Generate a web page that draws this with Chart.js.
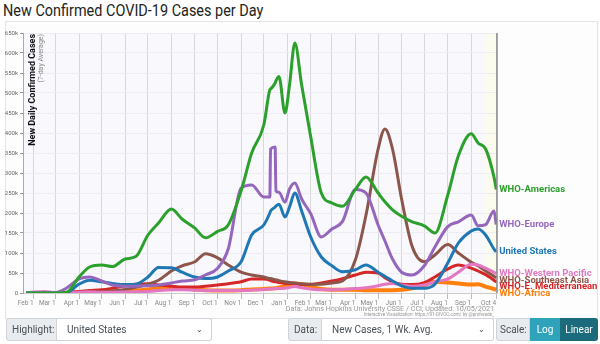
<!DOCTYPE html>
<html>
<head>
<meta charset="utf-8">
<script src="https://cdn.jsdelivr.net/npm/chart.js@4"></script>
<style>
  body { margin: 0; width: 600px; height: 344px; overflow: hidden; background: #fff; font-family: Roboto, "Helvetica Neue", Arial, sans-serif; }
  #title { position: absolute; left: 3px; top: 0px; font-size: 17px; color: #222; white-space: nowrap; transform: scaleX(0.85); transform-origin: left top; }
  #panel { position: absolute; left: 5px; top: 21px; width: 591px; height: 296px; border: 1px solid #e4e4e4; background: #fdfdfe; }
  #wrap { position: absolute; left: 0; top: 0; width: 600px; height: 320px; }
  .src { position: absolute; right: 106px; color: #999; white-space: nowrap; }
  .grp { position: absolute; top: 318px; height: 23px; display: flex; font-size: 10px; color: #495057; }
  .lab { background: #e9ecef; border: 1px solid #ced4da; border-radius: 3px 0 0 3px; display: flex; align-items: center; padding: 0 5px; box-sizing: border-box; }
  .sel { background: #fff; border: 1px solid #ced4da; border-left: none; border-radius: 0 3px 3px 0; display: flex; align-items: center; justify-content: space-between; padding: 0 8px 0 10px; box-sizing: border-box; flex: 1; }
  .btn { color: #fff; display: flex; align-items: center; justify-content: center; box-sizing: border-box; }
</style>
</head>
<body>
<div id="title">New Confirmed COVID-19 Cases per Day</div>
<div id="panel"></div>
<div id="wrap"><canvas id="chart"></canvas></div>
<div class="src" style="top:304px;font-size:7.2px;">Data: Johns Hopkins University CSSE / CCI; Updated: 10/05/2021</div>
<div class="src" style="top:312px;font-size:4.6px;">Interactive Visualization: https://91-DIVOC.com/ by @profwade_</div>

<div class="grp" style="left:6px;width:206px;">
  <div class="lab" style="width:51px;">Highlight:</div>
  <div class="sel"><span>United States</span><span style="font-size:8px;">&#8964;</span></div>
</div>
<div class="grp" style="left:288px;width:206px;">
  <div class="lab" style="width:34px;">Data:</div>
  <div class="sel"><span>New Cases, 1 Wk. Avg.</span><span style="font-size:8px;">&#8964;</span></div>
</div>
<div class="grp" style="left:496px;width:102px;">
  <div class="lab" style="width:34px;padding:0 3px;">Scale:</div>
  <div class="btn" style="width:30px;background:#2ea3b9;">Log</div>
  <div class="btn" style="width:38px;background:#1b6b7c;border-radius:0 3px 3px 0;">Linear</div>
</div>

<script>
// sample dates (values are 7-day averages, in thousands of cases)
const dates = [
  '2020-01-22', '2020-02-01', '2020-02-15', '2020-03-01', '2020-03-15', '2020-04-01', '2020-04-15',
  '2020-05-01', '2020-05-15', '2020-06-01', '2020-06-15', '2020-07-01', '2020-07-15', '2020-08-01',
  '2020-08-15', '2020-09-01', '2020-09-15', '2020-10-01', '2020-10-15', '2020-11-01', '2020-11-15',
  '2020-12-01', '2020-12-09', '2020-12-10', '2020-12-16', '2020-12-17', '2020-12-21', '2020-12-29',
  '2021-01-04', '2021-01-11', '2021-01-20', '2021-02-01', '2021-02-15', '2021-03-01', '2021-03-15',
  '2021-04-01', '2021-04-15', '2021-05-01', '2021-05-10', '2021-05-20', '2021-06-01', '2021-06-15',
  '2021-07-01', '2021-07-15', '2021-08-01', '2021-08-15', '2021-09-01', '2021-09-10', '2021-09-20',
  '2021-10-01', '2021-10-04'
];

const americas = [0, 0, 0, 0, 1, 40, 65, 70, 66, 85, 91, 145, 175, 210, 185, 162, 138, 154, 170, 255, 350,
  420, 508, 510, 525, 530, 541, 450, 520, 625, 520, 390, 250, 225, 217, 259, 290, 250, 228, 208, 192, 178,
  168, 150, 245, 343, 398, 375, 360, 290, 259];
const europe = [0, 0, 0.1, 1, 12, 35, 40, 30, 20, 17, 17, 18, 20, 25, 30, 33, 45, 62, 110, 262, 270,
  240, 240, 360, 365, 255, 252, 227, 260, 275, 235, 198, 140, 160, 179, 259, 250, 170, 130, 85, 52, 45,
  68, 115, 166, 178, 195, 168, 171, 205, 171];
const unitedStates = [0, 0, 0, 0, 0.5, 22, 32, 28, 24, 21, 22, 40, 64, 63, 52, 40, 36, 40, 55, 78, 145,
  170, 200, 205, 215, 217, 222, 190, 215, 250, 205, 140, 90, 68, 53, 58, 70, 52, 42, 30, 18, 12,
  12, 22, 75, 125, 155, 160, 145, 110, 103];
const westernPacific = [0.5, 2.5, 4, 0.8, 1, 2, 3, 2, 2, 2.5, 3, 4, 6, 8, 8, 7, 6, 6, 6, 6, 7,
  9, 10, 10, 11, 11, 11, 12, 14, 16, 13, 10, 8, 8, 9, 11, 13, 18, 22, 24, 20, 17,
  20, 28, 35, 52, 72, 70, 62, 52, 48];
const southeastAsia = [0, 0, 0, 0, 0.1, 0.5, 1.5, 3, 5, 9, 14, 22, 32, 55, 68, 78, 98, 88, 70, 52, 45,
  40, 36, 36, 33, 33, 31, 28, 26, 25, 23, 22, 22, 25, 30, 83, 195, 360, 410, 360, 235, 116,
  78, 95, 121, 100, 77, 68, 55, 42, 38];
const eMediterranean = [0, 0, 0, 0.2, 2, 4, 6, 8, 12, 18, 22, 23, 20, 17, 15, 15, 17, 20, 23, 28, 35,
  35, 32, 31, 28, 28, 26, 24, 24, 24, 21, 21, 25, 30, 36, 45, 52, 50, 38, 28, 22, 21,
  26, 40, 60, 70, 62, 55, 46, 32, 27];
const africa = [0, 0, 0, 0, 0.05, 0.5, 1, 2, 3, 4, 6, 9, 13, 14, 12, 9, 7, 6, 6, 7, 9,
  10, 11, 11, 12, 12, 14, 17, 21, 24, 22, 16, 10, 8, 8, 8, 7, 7, 7, 7, 8, 12,
  20, 28, 26, 24, 21, 22, 16, 10, 8];

const seriesNames = ['WHO-Americas', 'WHO-Europe', 'United States', 'WHO-Western Pacific',
  'WHO-Southeast Asia', 'WHO-E. Mediterranean', 'WHO-Africa'];
const seriesValues = [americas, europe, unitedStates, westernPacific, southeastAsia, eMediterranean, africa];
const seriesColors = ['#2ca02c', '#9467bd', '#1f77b4', '#e377c2', '#8c564b', '#d62728', '#ff7f0e'];
const seriesWidths = [3, 3, 3, 3, 3, 3, 4];

const tickDates = ['2020-02-01', '2020-03-01', '2020-04-01', '2020-05-01', '2020-06-01', '2020-07-01',
  '2020-08-01', '2020-09-01', '2020-10-01', '2020-11-01', '2020-12-01', '2021-01-01', '2021-02-01',
  '2021-03-01', '2021-04-01', '2021-05-01', '2021-06-01', '2021-07-01', '2021-08-01', '2021-09-01', '2021-10-04'];
const tickLabels = ['Feb 1', 'Mar 1', 'Apr 1', 'May 1', 'Jun 1', 'Jul 1', 'Aug 1', 'Sep 1', 'Oct 1',
  'Nov 1', 'Dec 1', 'Jan 1', 'Feb 1', 'Mar 1', 'Apr 1', 'May 1', 'Jun 1', 'Jul 1', 'Aug 1', 'Sep 1', 'Oct 4'];

const base = Date.parse('2020-02-01');
function dayOf(d) { return (Date.parse(d) - base) / 86400000; }
const days = dates.map(dayOf);
const tickDays = tickDates.map(dayOf);
const xMin = -14, xMax = 612;

function fmtK(v) { return v === 0 ? '0' : (v / 1000) + 'k'; }

// plot background + the pale band over the last couple of weeks
const plotBg = {
  id: 'plotBg',
  beforeDraw(chart) {
    const {ctx, chartArea: a, scales: {x}} = chart;
    const l = x.getPixelForValue(xMin), r = x.getPixelForValue(xMax);
    ctx.save();
    ctx.fillStyle = '#f9f9fd';
    ctx.fillRect(l, a.top, r - l, a.bottom - a.top);
    const b = x.getPixelForValue(dayOf('2021-09-19'));
    ctx.fillStyle = '#fbfbee';
    ctx.fillRect(b, a.top, r - b, a.bottom - a.top);
    ctx.restore();
  },
  afterDraw(chart) {
    const {ctx, chartArea: a, scales: {x}} = chart;
    const l = x.getPixelForValue(xMin), r = x.getPixelForValue(xMax);
    ctx.save();
    ctx.strokeStyle = '#888';
    ctx.lineWidth = 1.5;
    ctx.beginPath();
    ctx.moveTo(r, a.top);
    ctx.lineTo(r, a.bottom);
    ctx.stroke();
    // y axis title inside the plot
    ctx.translate(l + 10, a.top + 1);
    ctx.rotate(-Math.PI / 2);
    ctx.textAlign = 'right';
    ctx.textBaseline = 'middle';
    ctx.fillStyle = '#111';
    ctx.font = 'bold 9px Roboto';
    ctx.fillText('New Daily Confirmed Cases', 0, 0);
    ctx.fillStyle = '#888';
    ctx.font = '7px Roboto';
    ctx.fillText('(7-day Average)', 0, 8);
    ctx.restore();
  }
};

// series names at the end of each line
const endLabels = {
  id: 'endLabels',
  afterDatasetsDraw(chart) {
    const {ctx} = chart;
    const items = chart.data.datasets.map((ds, i) => {
      const pts = chart.getDatasetMeta(i).data;
      const p = pts[pts.length - 1];
      return {ds, x: p.x, y: p.y};
    }).sort((a, b) => a.y - b.y);
    let prev = -Infinity;
    ctx.save();
    ctx.font = 'bold 9.5px Roboto';
    ctx.textAlign = 'left';
    ctx.textBaseline = 'middle';
    items.forEach(o => {
      const y = Math.max(o.y, prev + 6.5);
      prev = y;
      ctx.fillStyle = o.ds.borderColor;
      ctx.fillText(o.ds.label, o.x + 3, y);
    });
    ctx.restore();
  }
};

new Chart(document.getElementById('chart'), {
  type: 'line',
  data: {
    datasets: seriesNames.map((name, i) => ({
      label: name,
      data: seriesValues[i].map((v, j) => ({x: days[j], y: v * 1000})),
      borderColor: seriesColors[i],
      backgroundColor: seriesColors[i],
      borderWidth: seriesWidths[i],
      pointRadius: 0,
      cubicInterpolationMode: 'monotone'
    }))
  },
  options: {
    responsive: true,
    maintainAspectRatio: false,
    animation: false,
    layout: { padding: { top: 33, right: 103, bottom: 13, left: 0 } },
    plugins: { legend: { display: false }, tooltip: { enabled: false } },
    scales: {
      x: {
        type: 'linear',
        min: xMin,
        max: xMax,
        afterBuildTicks: s => { s.ticks = tickDays.map(v => ({value: v})); },
        afterFit: s => { s.height = 14; },
        grid: { color: '#d8d8d8', tickLength: 6, tickColor: '#bbb' },
        border: { color: '#ccc' },
        ticks: {
          autoSkip: false, maxRotation: 0, align: 'end', padding: 0,
          color: '#888', font: { size: 6.5, family: 'Roboto' },
          callback: (v, i) => tickLabels[i]
        }
      },
      y: {
        min: 0,
        max: 650000,
        afterFit: s => { s.width = 23; },
        grid: { color: '#ececf2', tickLength: 3, tickColor: '#999' },
        border: { color: '#aaa' },
        ticks: {
          stepSize: 50000, padding: 2,
          color: '#666', font: { size: 6, family: 'Roboto' },
          callback: v => fmtK(v)
        }
      }
    }
  },
  plugins: [plotBg, endLabels]
});
</script>
</body>
</html>
